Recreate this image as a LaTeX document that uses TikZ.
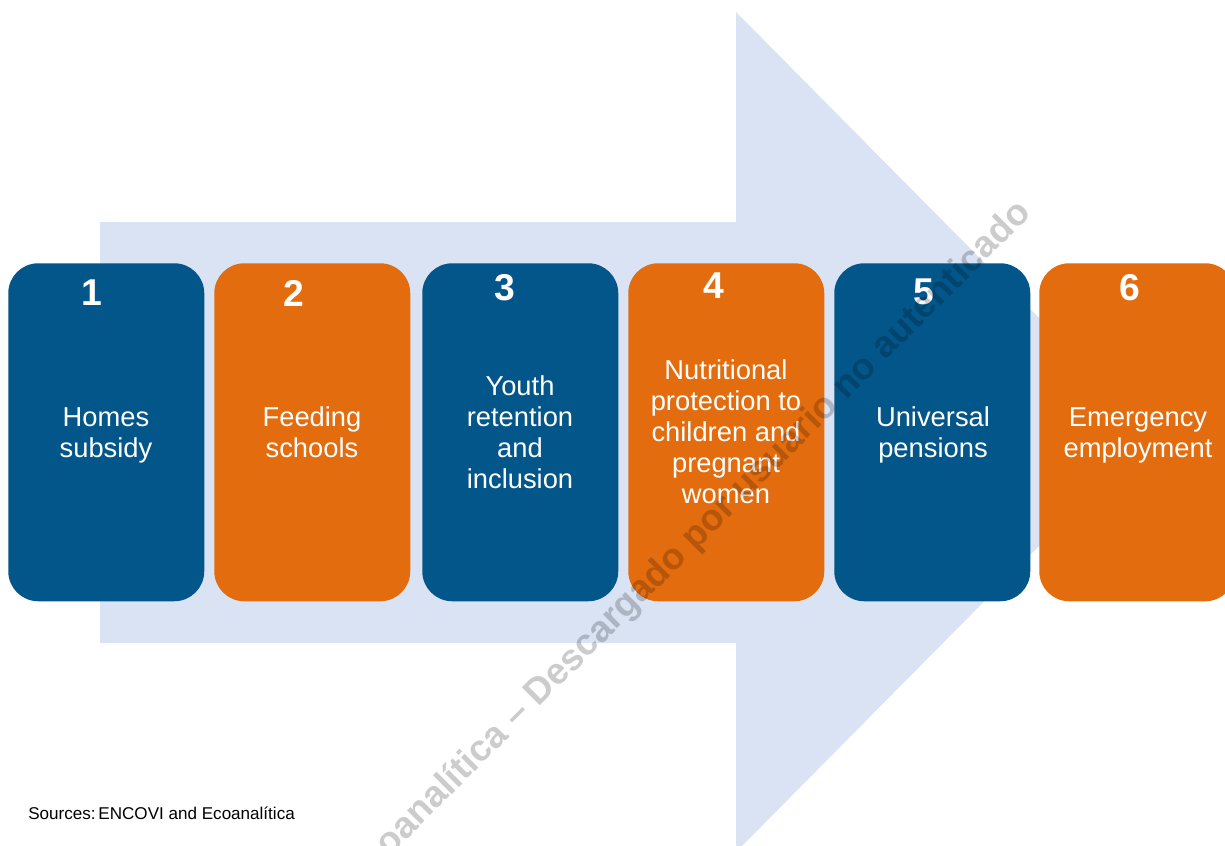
\documentclass[tikz,border=0pt]{standalone}
\usepackage{fontspec}
\setmainfont{Liberation Sans}
\definecolor{dblue}{HTML}{02568A}
\definecolor{orng}{HTML}{E36C0E}
\definecolor{lblue}{HTML}{DAE3F3}
\begin{document}
\begin{tikzpicture}[x=0.75pt,y=-0.75pt,
  box/.style={rounded corners=22.5pt, minimum width=147pt, minimum height=253.5pt, inner sep=0pt, anchor=north west},
  bluebox/.style={box, fill=dblue},
  orbox/.style={box, fill=orng},
  num/.style={text=white, font=\bfseries\fontsize{28}{30}\selectfont, inner sep=0pt},
  lbl/.style={text=white, align=center, font=\fontsize{20.5}{23.3}\selectfont, inner sep=0pt},
  wmark/.style={text=black, opacity=0.2, font=\bfseries\fontsize{27.7}{30}\selectfont, inner sep=0pt}]
\useasboundingbox (0,0) rectangle (1225,846);
\clip (0,0) rectangle (1225,846);
% background arrow
\fill[lblue] (100,222) -- (736,222) -- (736,12) -- (1152,432) -- (736,852) -- (736,643) -- (100,643) -- cycle;
% boxes
\node[bluebox] (b1) at (8,263) {};
\node[orbox]   (b2) at (214,263) {};
\node[bluebox] (b3) at (422,263) {};
\node[orbox]   (b4) at (628,263) {};
\node[bluebox] (b5) at (834,263) {};
\node[orbox]   (b6) at (1039,263) {};
% numbers
\node[num] (n1) at (92,293) {1};
\node[num] (n2) at (294,293) {2};
\node[num] (n3) at (505,288) {3};
\node[num] (n4) at (714,286) {4};
\node[num] (n5) at (924,292) {5};
\node[num] (n6) at (1130,288) {6};
% labels
\node[lbl] (t1) at (106,435) {Homes\\subsidy};
\node[lbl] (t2) at (312,432) {Feeding\\schools};
\node[lbl] (t3) at (520,432) {Youth\\retention\\and\\inclusion};
\node[lbl] (t4) at (726,432) {Nutritional\\protection to\\children and\\pregnant\\women};
\node[lbl] (t5) at (933,435) {Universal\\pensions};
\node[lbl] (t6) at (1138,435) {Emergency\\employment};
% source
\node[anchor=west, inner sep=0pt, font=\fontsize{12.8}{14}\selectfont] (src) at (28,813) {Sources:\,ENCOVI and Ecoanalítica};
% watermark
\node[wmark, rotate=45] (wm) at (688,545) {Ecoanalítica – Descargado por usuario no autenticado};
\end{tikzpicture}
\end{document}
